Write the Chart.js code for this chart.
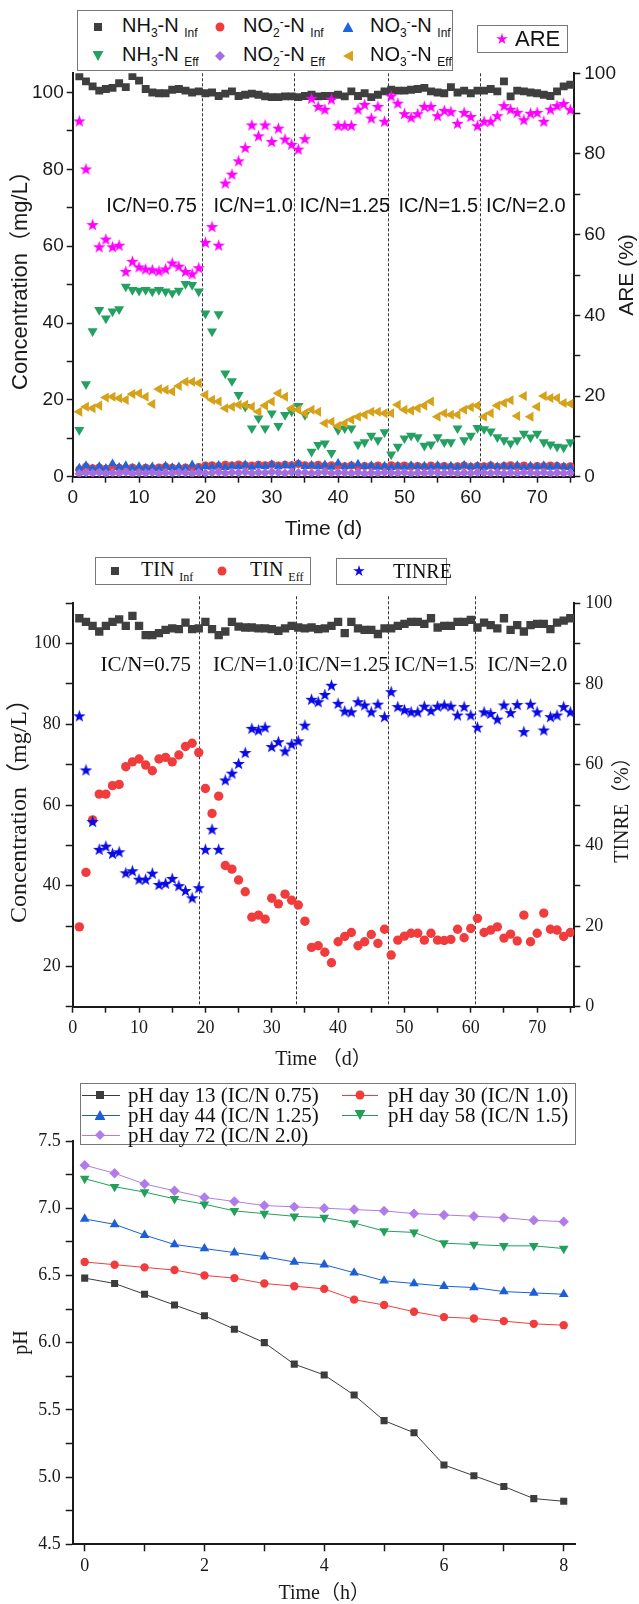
<!DOCTYPE html>
<html>
<head>
<meta charset="utf-8">
<title>Nitrogen removal at different IC/N ratios</title>
<script src="https://cdn.jsdelivr.net/npm/chart.js@4.4.1/dist/chart.umd.min.js"></script>
<style>
  html, body { margin: 0; padding: 0; background: #fff; }
  #page { position: relative; width: 639px; height: 1604px; overflow: hidden; background: #fff; }
  canvas { position: absolute; left: 0; }
  #c1 { top: 0; }
  #c2 { top: 540px; }
  #c3 { top: 1070px; }
  .box { position: absolute; border: 1px solid #777; background: #fff; box-sizing: border-box; }
  .it { position: absolute; white-space: nowrap; line-height: 1; transform: translateY(-50%); color: #111; }
  .sans { font-family: 'Liberation Sans', Arial, sans-serif; font-size: 20px; }
  .serif { font-family: 'Liberation Serif', 'Noto Sans CJK SC', serif; font-size: 20px; }
  .it sub { font-size: 60%; vertical-align: -0.35em; }
  .it sup { font-size: 60%; vertical-align: 0.55em; }
  .mk { position: absolute; transform: translate(-50%, -50%); }
  .ln { position: absolute; height: 1px; }
  .sq { width: 8px; height: 8px; }
  .ci { width: 9px; height: 9px; border-radius: 50%; }
  .tu { width: 11px; height: 10px; clip-path: polygon(50% 0, 100% 100%, 0 100%); }
  .td { width: 11px; height: 10px; clip-path: polygon(0 0, 100% 0, 50% 100%); }
  .tl { width: 10px; height: 11px; clip-path: polygon(0 50%, 100% 0, 100% 100%); }
  .di { width: 10px; height: 10px; clip-path: polygon(50% 0, 100% 50%, 50% 100%, 0 50%); }
  .st { width: 12px; height: 12px; clip-path: polygon(50% 0, 61% 35%, 98% 35%, 68% 57%, 79% 91%, 50% 70%, 21% 91%, 32% 57%, 2% 35%, 39% 35%); }
</style>
</head>
<body>
<div id="page">
  <canvas id="c1" width="639" height="540"></canvas>
  <canvas id="c2" width="639" height="530"></canvas>
  <canvas id="c3" width="639" height="534"></canvas>

  <!-- panel 1 legend -->
  <div class="box" style="left:77px;top:10px;width:376px;height:61px;"></div>
  <div class="mk sq" style="left:98px;top:27px;background:#3f3f3f;"></div>
  <div class="it sans" style="left:122px;top:27px;">NH<sub>3</sub>-N <sub>Inf</sub></div>
  <div class="mk ci" style="left:220px;top:27px;background:#f23c3c;"></div>
  <div class="it sans" style="left:243px;top:27px;">NO<sub>2</sub><sup>-</sup>-N <sub>Inf</sub></div>
  <div class="mk tu" style="left:348px;top:27px;background:#1e64dc;"></div>
  <div class="it sans" style="left:370px;top:27px;">NO<sub>3</sub><sup>-</sup>-N <sub>Inf</sub></div>
  <div class="mk td" style="left:98px;top:56px;background:#24a062;"></div>
  <div class="it sans" style="left:122px;top:56px;">NH<sub>3</sub>-N <sub>Eff</sub></div>
  <div class="mk di" style="left:220px;top:56px;background:#a46ee0;"></div>
  <div class="it sans" style="left:243px;top:56px;">NO<sub>2</sub><sup>-</sup>-N <sub>Eff</sub></div>
  <div class="mk tl" style="left:348px;top:56px;background:#d6a21a;"></div>
  <div class="it sans" style="left:370px;top:56px;">NO<sub>3</sub><sup>-</sup>-N <sub>Eff</sub></div>
  <div class="box" style="left:477px;top:25px;width:91px;height:28px;"></div>
  <div class="mk st" style="left:502px;top:39px;background:#ff00ff;"></div>
  <div class="it sans" style="left:515px;top:39px;font-size:22px;">ARE</div>

  <!-- panel 2 legend -->
  <div class="box" style="left:95px;top:557px;width:216px;height:28px;"></div>
  <div class="mk sq" style="left:115px;top:571px;background:#3f3f3f;"></div>
  <div class="it serif" style="left:141px;top:571px;">TIN <sub>Inf</sub></div>
  <div class="mk ci" style="left:222px;top:571px;background:#f03c3c;"></div>
  <div class="it serif" style="left:250px;top:571px;">TIN <sub>Eff</sub></div>
  <div class="box" style="left:336px;top:558px;width:111px;height:27px;"></div>
  <div class="mk st" style="left:359px;top:571px;background:#0a0ae6;"></div>
  <div class="it serif" style="left:393px;top:571px;">TINRE</div>

  <!-- panel 3 legend -->
  <div class="box" style="left:80px;top:1083px;width:496px;height:62px;"></div>
  <div class="ln" style="left:82px;top:1095px;width:38px;background:#3c3c3c;"></div>
  <div class="mk sq" style="left:100px;top:1095px;background:#3c3c3c;"></div>
  <div class="it serif" style="left:128px;top:1095px;font-size:21px;">pH day 13 (IC/N 0.75)</div>
  <div class="ln" style="left:342px;top:1095px;width:36px;background:#f23c3c;"></div>
  <div class="mk ci" style="left:360px;top:1095px;background:#f23c3c;"></div>
  <div class="it serif" style="left:388px;top:1095px;font-size:21px;">pH day 30 (IC/N 1.0)</div>
  <div class="ln" style="left:82px;top:1115px;width:38px;background:#1a5fd6;"></div>
  <div class="mk tu" style="left:100px;top:1115px;background:#1a5fd6;"></div>
  <div class="it serif" style="left:128px;top:1115px;font-size:21px;">pH day 44 (IC/N 1.25)</div>
  <div class="ln" style="left:342px;top:1115px;width:36px;background:#22a05a;"></div>
  <div class="mk td" style="left:360px;top:1115px;background:#22a05a;"></div>
  <div class="it serif" style="left:388px;top:1115px;font-size:21px;">pH day 58 (IC/N 1.5)</div>
  <div class="ln" style="left:82px;top:1135px;width:38px;background:#b07ce8;"></div>
  <div class="mk di" style="left:100px;top:1135px;background:#b07ce8;"></div>
  <div class="it serif" style="left:128px;top:1135px;font-size:21px;">pH day 72 (IC/N 2.0)</div>
</div>

<script>
'use strict';

// ── Data: panel 1 (nitrogen species, mg/L, and ARE %) ─────────
const days = [
  1, 2, 3, 4, 5, 6, 7, 8, 9, 10, 11, 12, 13, 14, 15, 16, 17, 18, 19, 20,
  21, 22, 23, 24, 25, 26, 27, 28, 29, 30, 31, 32, 33, 34, 35, 36, 37, 38, 39, 40,
  41, 42, 43, 44, 45, 46, 47, 48, 49, 50, 51, 52, 53, 54, 55, 56, 57, 58, 59, 60,
  61, 62, 63, 64, 65, 66, 67, 68, 69, 70, 71, 72, 73, 74, 75,
];

const nh3Inf = [
  104.2, 102.9, 101.6, 100.5, 100.9, 101.2, 102.4, 101.4, 104.3, 103.1,
  100.9, 100.0, 99.8, 99.8, 100.7, 100.9, 100.5, 100.0, 100.3, 99.8,
  100.0, 99.1, 99.7, 100.3, 99.1, 99.4, 99.7, 99.4, 99.0, 98.8,
  98.8, 99.0, 99.0, 98.8, 99.1, 99.4, 99.0, 99.1, 99.1, 99.4,
  99.0, 100.3, 99.1, 99.8, 98.8, 99.4, 100.3, 100.7, 100.5, 100.5,
  100.7, 100.9, 101.2, 100.3, 100.0, 99.8, 101.4, 100.0, 100.5, 99.8,
  100.5, 100.5, 100.9, 100.3, 102.9, 99.0, 100.5, 100.3, 100.0, 99.8,
  99.4, 99.1, 100.3, 101.6, 102.0,
];
const no2Inf = [
  1.9, 2.6, 2.2, 2.4, 2.1, 2.5, 2.3, 2.2, 2.4, 2.1, 2.3, 2.2, 2.4, 2.6, 2.3, 2.2, 2.4, 2.3, 2.5, 2.9,
  3.0, 2.8, 3.1, 2.9, 3.2, 3.0, 2.9, 3.1, 3.0, 3.2, 2.9, 3.1, 3.0, 3.3, 3.0, 2.9, 3.1, 2.8, 3.0, 2.9,
  2.7, 2.9, 2.6, 2.8, 2.7, 2.9, 2.6, 3.0, 2.8, 2.9, 2.7, 2.8, 2.6, 2.9, 2.7, 2.8, 2.6, 2.7, 2.9, 2.6,
  2.8, 2.7, 2.9, 2.6, 2.8, 3.0, 2.7, 2.9, 2.6, 2.8, 2.7, 2.9, 2.8, 2.6, 2.7,
];
const no3Inf = [
  2.3, 2.9, 2.1, 2.7, 2.2, 3.4, 2.5, 2.9, 2.2, 2.7, 2.3, 2.6, 2.1, 2.8, 2.4, 2.6, 2.2, 3.1, 2.3, 2.7,
  2.5, 3.0, 2.4, 2.8, 2.6, 3.1, 2.5, 2.9, 2.7, 3.2, 2.6, 3.0, 2.8, 3.4, 2.7, 3.0, 2.6, 3.1, 2.5, 3.5,
  2.6, 2.9, 3.3, 2.7, 2.9, 2.5, 2.8, 2.4, 2.8, 2.5, 2.9, 2.6, 2.8, 2.5, 2.9, 2.6, 2.8, 2.5, 3.0, 2.6,
  2.8, 2.5, 2.9, 2.6, 2.8, 2.5, 2.9, 2.4, 2.8, 2.6, 2.9, 2.5, 2.8, 2.6, 2.4,
];
const nh3Eff = [
  12.2, 24.1, 37.9, 43.4, 41.2, 43.0, 43.6, 49.5, 48.6, 48.4,
  48.6, 48.2, 48.6, 48.2, 47.8, 48.4, 50.2, 49.9, 48.2, 42.5,
  37.8, 42.3, 26.9, 24.9, 21.3, 18.2, 12.6, 15.2, 12.6, 16.5,
  13.2, 16.1, 17.0, 18.4, 16.1, 6.5, 8.3, 8.7, 6.2, 12.2,
  12.6, 12.6, 8.4, 9.0, 10.7, 9.5, 11.6, 5.8, 7.8, 10.0,
  10.7, 10.3, 8.1, 8.4, 10.3, 9.0, 9.0, 12.6, 9.5, 10.7,
  12.7, 12.4, 11.8, 10.3, 9.5, 8.7, 9.5, 11.2, 10.2, 11.2,
  9.0, 8.4, 7.8, 7.6, 9.0,
];
const no2Eff = [
  0.8, 1.0, 0.9, 1.1, 0.8, 1.0, 0.9, 1.2, 0.8, 1.0, 0.9, 1.1, 0.8, 1.0, 0.9, 1.1, 1.0, 0.8, 1.1, 0.9,
  1.0, 1.2, 0.9, 1.1, 1.0, 1.2, 0.9, 1.1, 1.0, 1.2, 1.1, 0.9, 1.2, 1.0, 1.1, 0.9, 1.0, 1.2, 0.9, 1.1,
  1.0, 0.9, 1.1, 0.8, 1.0, 0.9, 1.1, 1.0, 0.9, 1.1, 0.8, 1.0, 0.9, 1.1, 1.0, 0.9, 1.1, 0.8, 1.0, 0.9,
  1.1, 1.0, 0.9, 1.1, 0.8, 1.0, 0.9, 1.1, 1.0, 0.9, 1.1, 0.8, 1.0, 0.9, 1.0,
];
const no3Eff = [
  16.9, 18.2, 17.8, 18.5, 20.6, 20.8, 20.4, 20.0, 21.5, 21.7,
  20.8, 18.9, 22.8, 22.6, 22.2, 23.6, 24.7, 24.7, 24.4, 21.3,
  20.0, 19.6, 17.8, 18.2, 18.7, 18.7, 18.2, 16.9, 18.5, 19.6,
  21.7, 20.8, 17.8, 17.4, 16.5, 17.4, 16.9, 13.9, 14.3, 13.2,
  13.9, 14.8, 15.6, 16.1, 16.9, 16.9, 16.5, 16.5, 18.7, 17.4,
  17.2, 17.8, 18.5, 19.6, 15.6, 16.5, 16.1, 16.1, 17.4, 18.1,
  18.5, 15.6, 16.5, 18.5, 19.2, 19.9, 15.8, 21.0, 15.6, 18.2,
  21.0, 20.5, 20.5, 19.2, 19.0,
];
const are = [
  88.2, 76.3, 62.5, 57.0, 58.9, 57.0, 57.4, 50.9, 53.4, 52.0,
  51.5, 51.3, 51.0, 51.5, 53.0, 52.2, 50.9, 50.3, 51.8, 58.1,
  62.0, 57.4, 72.8, 75.0, 78.3, 81.6, 87.2, 84.5, 87.2, 83.1,
  86.4, 83.7, 82.4, 81.2, 83.8, 93.8, 91.8, 91.1, 93.6, 87.1,
  87.1, 87.1, 91.1, 92.3, 88.9, 91.8, 88.1, 94.4, 92.6, 90.0,
  89.1, 90.0, 91.8, 91.8, 89.5, 90.8, 90.5, 87.6, 90.3, 89.3,
  87.0, 88.1, 88.1, 89.5, 92.0, 91.1, 90.3, 88.5, 90.1, 90.3,
  88.1, 91.1, 92.0, 92.5, 91.0,
];

// ── Data: panel 2 (TIN, mg/L, and TINRE %) ────────────────────
const tinInf = [
  106.3, 105.4, 104.4, 103.0, 104.4, 105.4, 106.0, 104.4, 106.9, 104.4,
  102.1, 102.1, 102.6, 103.4, 103.8, 103.6, 105.2, 103.6, 103.8, 105.4,
  103.6, 102.1, 103.0, 105.4, 104.2, 104.0, 104.0, 103.8, 103.8, 103.6,
  103.2, 103.8, 104.4, 104.0, 103.8, 104.0, 103.6, 103.8, 104.4, 105.4,
  102.6, 105.4, 103.8, 103.4, 103.4, 102.4, 103.8, 103.8, 104.4, 104.9,
  105.4, 105.4, 104.9, 106.3, 104.0, 104.4, 104.4, 105.4, 105.4, 105.9,
  104.0, 105.2, 104.6, 103.8, 106.3, 103.4, 104.6, 103.0, 104.6, 104.9,
  104.9, 103.6, 105.2, 105.7, 106.3,
];
const tinEff = [
  29.8, 43.3, 56.3, 62.7, 62.7, 64.8, 65.1, 69.5, 70.7, 71.4,
  69.9, 68.5, 71.4, 71.8, 70.7, 72.4, 74.5, 75.3, 73.0, 64.1,
  57.9, 62.2, 45.0, 44.1, 41.4, 38.5, 32.2, 32.7, 31.7, 36.9,
  35.5, 37.9, 36.4, 35.2, 31.2, 24.7, 25.1, 23.5, 20.9, 26.1,
  27.4, 28.4, 25.1, 26.1, 27.9, 25.7, 29.2, 22.8, 26.5, 27.5,
  28.2, 28.2, 26.5, 28.2, 26.5, 26.4, 26.7, 29.2, 27.1, 29.4,
  31.9, 28.4, 29.0, 29.8, 27.0, 28.0, 26.3, 32.7, 26.1, 28.2,
  33.2, 29.2, 29.0, 27.4, 28.4,
];
const tinre = [
  72.1, 58.7, 45.9, 39.0, 39.8, 38.0, 38.4, 33.2, 33.7, 31.6,
  31.6, 33.1, 30.3, 30.6, 31.8, 30.0, 28.8, 27.0, 29.5, 39.0,
  44.0, 39.0, 56.2, 57.9, 60.3, 63.0, 69.0, 68.6, 69.3, 64.5,
  65.7, 63.4, 65.1, 65.9, 69.8, 76.2, 75.6, 77.4, 79.7, 75.2,
  73.3, 73.1, 75.6, 74.8, 73.1, 75.0, 71.9, 78.1, 74.4, 73.6,
  73.1, 73.1, 74.5, 73.4, 74.5, 74.8, 74.5, 72.3, 74.4, 72.3,
  69.3, 73.1, 72.7, 71.3, 74.8, 72.9, 74.9, 68.2, 75.0, 73.1,
  68.6, 71.9, 72.3, 74.4, 73.1,
];

// ── Data: panel 3 (pH over one cycle) ─────────────────────────
const hours = [0, 0.5, 1, 1.5, 2, 2.5, 3, 3.5, 4, 4.5, 5, 5.5, 6, 6.5, 7, 7.5, 8];
const phDay13 = [6.48, 6.44, 6.36, 6.28, 6.20, 6.10, 6.00, 5.84, 5.76, 5.61, 5.42, 5.33, 5.09, 5.01, 4.93, 4.84, 4.82];
const phDay30 = [6.60, 6.58, 6.56, 6.54, 6.50, 6.48, 6.44, 6.42, 6.40, 6.32, 6.28, 6.23, 6.19, 6.18, 6.16, 6.14, 6.13];
const phDay44 = [6.92, 6.88, 6.80, 6.73, 6.70, 6.67, 6.64, 6.60, 6.58, 6.52, 6.46, 6.44, 6.42, 6.41, 6.38, 6.37, 6.36];
const phDay58 = [7.22, 7.16, 7.12, 7.07, 7.03, 6.98, 6.96, 6.94, 6.93, 6.89, 6.83, 6.82, 6.74, 6.73, 6.72, 6.72, 6.70];
const phDay72 = [7.32, 7.26, 7.18, 7.13, 7.08, 7.05, 7.02, 7.01, 7.00, 6.99, 6.98, 6.96, 6.95, 6.94, 6.93, 6.91, 6.90];

// ── Phase dividers and labels ─────────────────────────────────
const phaseNames = ['IC/N=0.75', 'IC/N=1.0', 'IC/N=1.25', 'IC/N=1.5', 'IC/N=2.0'];
const p1Dividers = [19.5, 33.3, 47.5, 61.4];
const p1PhaseX = [11.9, 27.2, 41.0, 55.1, 68.3];
const p2Dividers = [19.1, 33.6, 47.5, 60.6];
const p2PhaseX = [11.0, 27.2, 40.8, 54.5, 68.5];

// ── Tick values ───────────────────────────────────────────────
const dayMajor = [0, 10, 20, 30, 40, 50, 60, 70];
const dayMinor = [5, 15, 25, 35, 45, 55, 65, 75];
const p1LeftMajor = [0, 20, 40, 60, 80, 100];
const p1LeftMinor = [10, 30, 50, 70, 90];
const pctMajor = [0, 20, 40, 60, 80, 100];
const pctMinor = [10, 30, 50, 70, 90];
const p2LeftMajor = [20, 40, 60, 80, 100];
const p2LeftMinor = [10, 30, 50, 70, 90, 110];
const phMajor = [4.5, 5.0, 5.5, 6.0, 6.5, 7.0, 7.5];
const phMinor = [4.75, 5.25, 5.75, 6.25, 6.75, 7.25];
const hourMajor = [0, 2, 4, 6, 8];
const hourMinor = [1, 3, 5, 7];

// ── Helpers ───────────────────────────────────────────────────
function el(id) { return document.getElementById(id); }

function pts(xs, ys) { return xs.map((x, i) => ({ x, y: ys[i] })); }

function starCanvas(color, d) {
  const c = document.createElement('canvas');
  c.width = d; c.height = d;
  const g = c.getContext('2d');
  g.fillStyle = color;
  g.beginPath();
  for (let i = 0; i < 10; i++) {
    const r = i % 2 ? d * 0.2 : d * 0.5;
    const a = -Math.PI / 2 + i * Math.PI / 5;
    g.lineTo(d / 2 + r * Math.cos(a), d / 2 + 0.6 + r * Math.sin(a));
  }
  g.closePath();
  g.fill();
  return c;
}

function setTicks(major, minor) {
  return (axis) => {
    axis.ticks = major.concat(minor).sort((a, b) => a - b).map((v) => ({ value: v }));
  };
}

function fixedSize(prop, size) {
  return (s) => { s[prop] = size; };
}

const SANS = "'Liberation Sans', Arial, 'Noto Sans CJK SC', sans-serif";
const SERIF = "'Liberation Serif', 'Noto Sans CJK SC', serif";
const INK = '#1a1a1a';

function axis(opts) {
  const {
    position, min, max, major, minor, fmt, family, size, pad, tick, title, titleSize,
    titlePad, fit, fitProp,
  } = opts;
  return {
    type: 'linear',
    position,
    min,
    max,
    afterBuildTicks: setTicks(major, minor),
    afterFit: fixedSize(fitProp, fit),
    ticks: {
      autoSkip: false,
      maxRotation: 0,
      padding: pad,
      color: INK,
      font: { family, size, lineHeight: 1.2 },
      callback: (v) => (major.includes(v) ? (fmt ? fmt(v) : String(v)) : ''),
    },
    grid: { drawOnChartArea: false, drawTicks: true, tickLength: tick, tickColor: INK, tickWidth: 1.5 },
    border: { display: true, color: INK, width: 2 },
    title: {
      display: !!title,
      text: title,
      color: INK,
      font: { family, size: titleSize, lineHeight: 1 },
      padding: { top: titlePad, bottom: 0 },
    },
  };
}

function scatterSet(label, xs, ys, color, style, radius, yAxisID, order, rotation) {
  return {
    label,
    data: pts(xs, ys),
    yAxisID,
    order,
    showLine: false,
    pointStyle: style,
    pointRadius: radius,
    pointRotation: rotation || 0,
    pointBackgroundColor: color,
    pointBorderColor: color,
    pointBorderWidth: 0,
  };
}

function lineSet(label, ys, color, style, radius, rotation) {
  return {
    label,
    data: pts(hours, ys),
    showLine: true,
    borderColor: color,
    borderWidth: 1,
    pointStyle: style,
    pointRadius: radius,
    pointRotation: rotation || 0,
    pointBackgroundColor: color,
    pointBorderColor: color,
    pointBorderWidth: 0,
  };
}

// ── Plugin: dashed phase dividers with IC/N labels ────────────
const phasePlugin = {
  id: 'phases',
  beforeDatasetsDraw(chart, args, o) {
    const { ctx, chartArea } = chart;
    const xs = chart.scales.x;
    const ys = chart.scales.y;
    ctx.save();
    ctx.strokeStyle = '#333';
    ctx.lineWidth = 1;
    ctx.setLineDash([3, 2]);
    o.lines.forEach((d) => {
      const px = Math.round(xs.getPixelForValue(d)) + 0.5;
      ctx.beginPath();
      ctx.moveTo(px, chartArea.top - (o.overshoot || 0));
      ctx.lineTo(px, chartArea.bottom);
      ctx.stroke();
    });
    ctx.setLineDash([]);
    ctx.fillStyle = '#111';
    ctx.font = o.font;
    ctx.textAlign = 'center';
    ctx.textBaseline = 'middle';
    phaseNames.forEach((name, i) => {
      ctx.fillText(name, xs.getPixelForValue(o.labelX[i]), ys.getPixelForValue(o.labelY));
    });
    ctx.restore();
  },
};

// ── Plugin: right-hand axis title, read bottom to top ─────────
const sideTitlePlugin = {
  id: 'sideTitle',
  afterDraw(chart, args, o) {
    const { ctx, chartArea } = chart;
    ctx.save();
    ctx.translate(o.x, (chartArea.top + chartArea.bottom) / 2);
    ctx.rotate(-Math.PI / 2);
    ctx.fillStyle = INK;
    ctx.font = o.font;
    ctx.textAlign = 'center';
    ctx.textBaseline = 'middle';
    ctx.fillText(o.text, 0, 0);
    ctx.restore();
  },
};

const baseOptions = {
  responsive: false,
  animation: false,
  devicePixelRatio: 1,
  events: [],
};

// ── Panel 1 ───────────────────────────────────────────────────
new Chart(el('c1'), {
  type: 'scatter',
  data: {
    datasets: [
      scatterSet('ARE', days, are, '#ff00ff', starCanvas('#ff00ff', 13), 6, 'y2', 1),
      scatterSet('NO3-N Eff', days, no3Eff, '#d6a21a', 'triangle', 5.8, 'y', 2, 270),
      scatterSet('NO2-N Eff', days, no2Eff, '#a46ee0', 'rectRot', 4.8, 'y', 3),
      scatterSet('NH3-N Eff', days, nh3Eff, '#24a062', 'triangle', 5.8, 'y', 4, 180),
      scatterSet('NO3-N Inf', days, no3Inf, '#1e64dc', 'triangle', 5.2, 'y', 5),
      scatterSet('NO2-N Inf', days, no2Inf, '#f23c3c', 'circle', 4, 'y', 6),
      scatterSet('NH3-N Inf', days, nh3Inf, '#3f3f3f', 'rect', 5.6, 'y', 7),
    ],
  },
  options: {
    ...baseOptions,
    layout: { padding: { top: 73.3, left: 0, right: 0, bottom: 0 } },
    plugins: {
      legend: { display: false },
      tooltip: { enabled: false },
      phases: { lines: p1Dividers, labelX: p1PhaseX, labelY: 70.3, font: `20px ${SANS}`, overshoot: 0 },
      sideTitle: { text: 'ARE (%)', x: 627, font: `21px ${SANS}` },
    },
    scales: {
      x: axis({
        position: 'bottom', min: 0, max: 75.6, major: dayMajor, minor: dayMinor,
        family: SANS, size: 19, pad: 4, tick: 6, title: 'Time (d)', titleSize: 21, titlePad: 12,
        fit: 540 - 476.7, fitProp: 'height',
      }),
      y: axis({
        position: 'left', min: 0, max: 105, major: p1LeftMajor, minor: p1LeftMinor,
        family: SANS, size: 19, pad: 3, tick: 6, title: 'Concentration（mg/L）', titleSize: 22, titlePad: 10,
        fit: 72.7, fitProp: 'width',
      }),
      y2: axis({
        position: 'right', min: 0, max: 100, major: pctMajor, minor: pctMinor,
        family: SANS, size: 19, pad: 4, tick: 6, title: '', titleSize: 21, titlePad: 1,
        fit: 639 - 574.3, fitProp: 'width',
      }),
    },
  },
  plugins: [phasePlugin, sideTitlePlugin],
});

// ── Panel 2 ───────────────────────────────────────────────────
new Chart(el('c2'), {
  type: 'scatter',
  data: {
    datasets: [
      scatterSet('TINRE', days, tinre, '#0a0ae6', starCanvas('#0a0ae6', 13), 6, 'y2', 1),
      scatterSet('TIN Eff', days, tinEff, '#f03c3c', 'circle', 4.7, 'y', 2),
      scatterSet('TIN Inf', days, tinInf, '#3f3f3f', 'rect', 5.9, 'y', 3),
    ],
  },
  options: {
    ...baseOptions,
    layout: { padding: { top: 63.3, left: 0, right: 0, bottom: 0 } },
    plugins: {
      legend: { display: false },
      tooltip: { enabled: false },
      phases: { lines: p2Dividers, labelX: p2PhaseX, labelY: 94.7, font: `21px ${SERIF}`, overshoot: 7 },
      sideTitle: { text: 'TINRE（%）', x: 623, font: `20px ${SERIF}` },
    },
    scales: {
      x: axis({
        position: 'bottom', min: 0, max: 75.6, major: dayMajor, minor: dayMinor,
        family: SERIF, size: 18, pad: 5, tick: 6, title: 'Time （d）', titleSize: 20, titlePad: 8,
        fit: 530 - 466.7, fitProp: 'height',
      }),
      y: axis({
        position: 'left', min: 10, max: 110, major: p2LeftMajor, minor: p2LeftMinor,
        family: SERIF, size: 18, pad: 5, tick: 7, title: 'Concentration（mg/L）', titleSize: 24, titlePad: 8,
        fit: 72.7, fitProp: 'width',
      }),
      y2: axis({
        position: 'right', min: 0, max: 100, major: pctMajor, minor: pctMinor,
        family: SERIF, size: 18, pad: 5, tick: 6, title: '', titleSize: 19, titlePad: 6,
        fit: 639 - 574.3, fitProp: 'width',
      }),
    },
  },
  plugins: [phasePlugin, sideTitlePlugin],
});

// ── Panel 3 ───────────────────────────────────────────────────
new Chart(el('c3'), {
  type: 'scatter',
  data: {
    datasets: [
      lineSet('pH day 13 (IC/N 0.75)', phDay13, '#3c3c3c', 'rect', 5),
      lineSet('pH day 30 (IC/N 1.0)', phDay30, '#f23c3c', 'circle', 4.2),
      lineSet('pH day 44 (IC/N 1.25)', phDay44, '#1a5fd6', 'triangle', 5.6),
      lineSet('pH day 58 (IC/N 1.5)', phDay58, '#22a05a', 'triangle', 5.6, 180),
      lineSet('pH day 72 (IC/N 2.0)', phDay72, '#b07ce8', 'rectRot', 5.2),
    ],
  },
  options: {
    ...baseOptions,
    layout: { padding: { top: 71, left: 0, right: 639 - 575.7, bottom: 0 } },
    plugins: { legend: { display: false }, tooltip: { enabled: false } },
    scales: {
      x: axis({
        position: 'bottom', min: -0.2, max: 8.2, major: hourMajor, minor: hourMinor,
        family: SERIF, size: 18, pad: 4, tick: 7, title: 'Time（h）', titleSize: 20, titlePad: 1,
        fit: 534 - 474.3, fitProp: 'height',
      }),
      y: axis({
        position: 'left', min: 4.5, max: 7.5, major: phMajor, minor: phMinor, fmt: (v) => v.toFixed(1),
        family: SERIF, size: 18, pad: 5, tick: 7, title: 'pH', titleSize: 20, titlePad: 12,
        fit: 72.7, fitProp: 'width',
      }),
    },
  },
});
</script>
</body>
</html>
